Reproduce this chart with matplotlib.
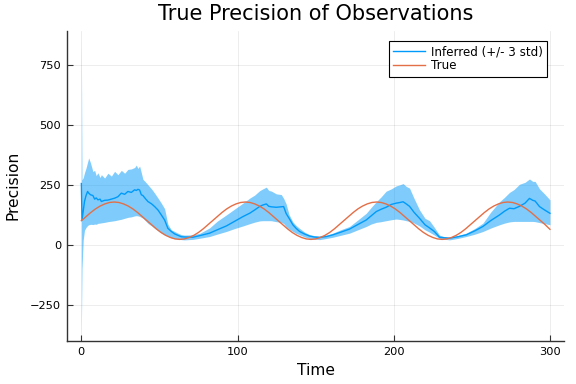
import numpy as np
import matplotlib
matplotlib.use("Agg")
import matplotlib.pyplot as plt

# true precision, sampled every 3 time steps
t_true = np.arange(0, 301, 3)
prec_true = [100, 117, 134, 149, 161, 170, 176, 178, 176, 170, 161, 149, 134, 117,
             100, 83, 66, 51, 39, 30, 24, 22, 24, 30, 39, 51, 66, 83,
             100, 117, 134, 149, 161, 170, 176, 178, 176, 170, 161, 149, 134, 117,
             100, 83, 66, 51, 39, 30, 24, 22, 24, 30, 39, 51, 66, 83,
             100, 117, 134, 149, 161, 170, 176, 178, 176, 170, 161, 149, 134, 117,
             100, 83, 66, 51, 39, 30, 24, 22, 24, 30, 39, 51, 66, 83,
             100, 117, 134, 149, 161, 170, 176, 178, 176, 170, 161, 149, 134, 117,
             100, 83, 64]

# inferred mean and +/- 3 std band
t_inf = [0, 0.4, 1.2, 2, 3, 4, 4.7, 5.9, 7.4, 8.5, 9.5, 10.6, 12, 12.8, 14.9, 17, 19.2,
         21.3, 23.4, 25.6, 27.7, 29.8, 32, 34.1, 35.2, 36.2, 37.3, 38.4, 39.4, 41,
         42.6, 45, 46.9, 49, 51.2, 53.3, 55.4, 57.6, 59.7, 61.8, 64, 66, 71.4, 76,
         82.1, 87, 92.8, 98, 103.4, 108, 111, 114.1, 116, 118.4, 120, 121.5, 124.8,
         128, 129.5, 131.1, 133, 135.4, 137.5, 139.7, 143, 146.1, 149, 152.5, 157,
         161, 166, 171.7, 177, 182.4, 185.5, 188.8, 192, 195.1, 198.5, 201.5, 204,
         206, 208, 210.1, 213, 216.5, 220, 222.9, 226, 229.3, 232, 235.7, 241,
         246.4, 252, 257.1, 262, 267.7, 271, 274.1, 277, 280.5, 284, 286.9, 289,
         290.5, 293.3, 296.5, 300]
mean_inf = [255, 103, 140, 180, 205, 222, 215, 208, 205, 190, 195, 187, 190, 180, 185, 186, 190,
            194, 200, 215, 210, 222, 218, 229, 226, 231, 228, 208, 205, 192,
            180, 170, 159, 145, 124, 103, 68, 55, 45, 39, 33, 32, 31, 38,
            48, 62, 78, 97, 117, 132, 145, 159, 165, 170, 160, 158, 156,
            158, 159, 130, 110, 83, 68, 55, 44, 36, 32, 30, 34,
            41, 52, 65, 84, 103, 120, 138, 148, 156, 168, 173, 176,
            179, 170, 160, 135, 110, 83, 70, 55, 31, 29, 27, 33,
            41, 58, 76, 100, 124, 140, 152, 150, 160, 173, 193, 185,
            182, 159, 145, 131]
lower_inf = [-364, -100, 20, 60, 72, 80, 83, 85, 84, 86, 85, 89, 90, 91, 93, 96, 98,
             100, 103, 106, 110, 114, 116, 120, 121, 120, 118, 114, 110, 100,
             89, 78, 68, 58, 48, 40, 34, 28, 25, 24, 21, 20, 22, 27,
             34, 44, 55, 67, 78, 88, 94, 99, 100, 100, 100, 100, 96,
             93, 88, 75, 65, 55, 47, 41, 32, 26, 23, 21, 26,
             31, 39, 48, 62, 76, 86, 93, 96, 100, 104, 107, 105,
             103, 100, 97, 90, 78, 62, 52, 40, 26, 23, 20, 26,
             34, 44, 55, 69, 83, 90, 95, 97, 97, 97, 97, 97,
             96, 92, 88, 83]
upper_inf = [856, 270, 280, 300, 320, 345, 362, 340, 305, 310, 288, 300, 280, 292, 278, 298, 286,
             306, 292, 310, 298, 314, 316, 322, 332, 318, 328, 300, 273, 262,
             250, 232, 215, 195, 173, 150, 85, 62, 55, 48, 42, 40, 41, 48,
             70, 98, 124, 148, 173, 195, 207, 225, 232, 240, 226, 224, 212,
             209, 193, 170, 125, 95, 80, 68, 52, 42, 38, 36, 40,
             48, 62, 76, 103, 131, 155, 179, 200, 223, 233, 245, 250,
             255, 243, 236, 193, 145, 110, 100, 72, 40, 34, 30, 38,
             48, 68, 90, 135, 179, 198, 218, 230, 252, 260, 274, 264,
             264, 233, 212, 187]

blue = "#009AFA"
red = "#E36F47"

fig = plt.figure(figsize=(5.76, 3.84), dpi=100)
ax = fig.add_axes([67.3 / 576, 1 - 340.7 / 384, (564 - 67.3) / 576, (340.7 - 30.7) / 384])

ax.fill_between(t_inf, lower_inf, upper_inf, color=blue, alpha=0.5, lw=0)
ax.plot(t_inf, mean_inf, color=blue, lw=1.0, label="Inferred (+/- 3 std)")
ax.plot(t_true, prec_true, color=red, lw=1.0, label="True")

ax.set_xlim(-9, 309)
ax.set_ylim(-400.6, 892.6)
ax.set_xticks([0, 100, 200, 300])
ax.set_yticks([-250, 0, 250, 500, 750])
ax.grid(True, color="black", alpha=0.1, lw=0.5)
ax.set_axisbelow(True)

for s in ["top", "right"]:
    ax.spines[s].set_visible(False)
for s in ["left", "bottom"]:
    ax.spines[s].set_color("#333333")
    ax.spines[s].set_linewidth(1.0)
ax.tick_params(direction="in", length=4, width=0.8, color="#333333",
               labelsize=8.2, pad=4.5)

ax.set_title("True Precision of Observations", fontsize=15, pad=8)
ax.set_xlabel("Time", fontsize=11.2, labelpad=4.5)
ax.set_ylabel("Precision", fontsize=11.2, labelpad=7)

leg = ax.legend(loc="upper right", bbox_to_anchor=(546.7 / 576, 1 - 41 / 384),
                bbox_transform=fig.transFigure, borderaxespad=0, fontsize=8.6,
                fancybox=False, framealpha=1, edgecolor="black",
                handlelength=2.7, handletextpad=0.45, borderpad=0.35,
                labelspacing=0.1)
leg.get_frame().set_linewidth(0.8)

fig.savefig("out.png", dpi=100)
